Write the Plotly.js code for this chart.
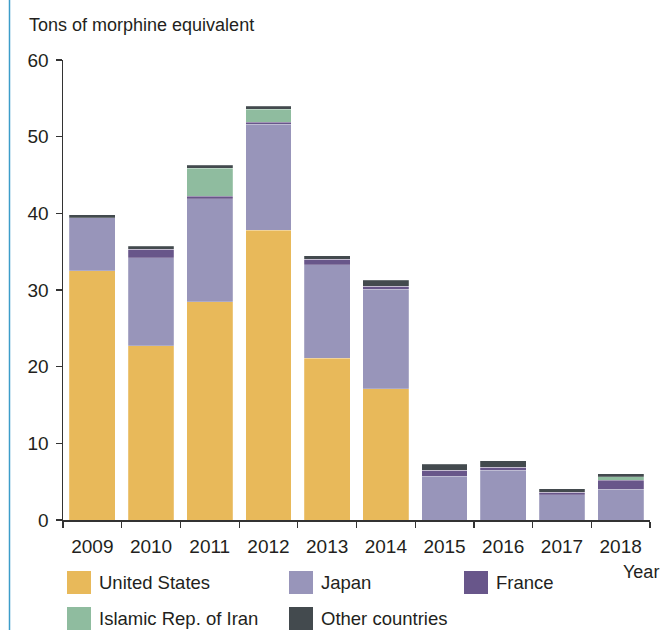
<!DOCTYPE html>
<html>
<head>
<meta charset="utf-8">
<script src="https://cdn.plot.ly/plotly-3.0.1.min.js"></script>
<style>html,body{margin:0;padding:0;background:#fff;}#chart{width:662px;height:630px;}</style>
</head>
<body>
<div id="chart"></div>
<script>
// Data (tons of morphine equivalent)
const years = ["2009","2010","2011","2012","2013","2014","2015","2016","2017","2018"];
const unitedStates = [32.5, 22.7, 28.5, 37.8, 21.1, 17.1, 0, 0, 0, 0];
const japan        = [6.9, 11.5, 13.4, 13.8, 12.2, 13.0, 5.7, 6.5, 3.3, 4.0];
const france       = [0, 1.1, 0.3, 0.3, 0.7, 0.4, 0.8, 0.4, 0.35, 1.2];
const iran         = [0, 0, 3.7, 1.7, 0, 0, 0, 0, 0, 0.45];
const others       = [0.4, 0.4, 0.4, 0.4, 0.5, 0.8, 0.8, 0.8, 0.4, 0.4];
const seriesNames  = ["United States", "Japan", "France", "Islamic Rep. of Iran", "Other countries"];
const yTicks = [0, 10, 20, 30, 40, 50, 60];

const seriesValues = [unitedStates, japan, france, iran, others];
const colors = ["#E8B95A", "#9895BA", "#68568A", "#8FBC9F", "#434A4E"];

const W = 662, H = 630;
const M = {l: 63, r: 12, t: 60, b: 110};
const pw = W - M.l - M.r, ph = H - M.t - M.b;
const px = x => (x - M.l) / pw;
const py = y => (H - M.b - y) / ph;

const FONT = "Liberation Sans, Arial, sans-serif";
const TXT = "#231F20";

const traces = seriesNames.map((name, i) => ({
  type: "bar",
  name: name,
  x: years,
  y: seriesValues[i],
  marker: {color: colors[i], line: {color: "rgba(255,255,255,0.35)", width: 0.6}},
  showlegend: false,
  hoverinfo: "x+y+name"
}));

// custom legend (swatches + labels) laid out in 3 columns
const legendCols = [67, 289, 464];
const legendRows = [582.5, 618.5];
const shapes = [];
const annotations = [];
seriesNames.forEach((name, i) => {
  const c = i % 3, r = Math.floor(i / 3);
  const x0 = legendCols[c], yc = legendRows[r];
  shapes.push({type: "rect", xref: "paper", yref: "paper",
    x0: px(x0), x1: px(x0 + 24), y0: py(yc + 11.5), y1: py(yc - 11.5),
    fillcolor: colors[i], line: {width: 0}});
  annotations.push({xref: "paper", yref: "paper", x: px(x0 + 30), y: py(yc),
    xanchor: "left", yanchor: "middle", showarrow: false, text: name,
    font: {family: FONT, size: 18.5, color: TXT}});
});
annotations.push({xref: "paper", yref: "paper", x: px(661), y: py(572),
  xanchor: "right", yanchor: "middle", showarrow: false, text: "Year",
  font: {family: FONT, size: 18, color: TXT}});
// left blue rule
shapes.push({type: "line", xref: "paper", yref: "paper",
  x0: px(9.5), x1: px(9.5), y0: py(H), y1: py(0),
  line: {color: "#3C9DC9", width: 1.5}});

const layout = {
  width: W, height: H,
  margin: M,
  paper_bgcolor: "#fff", plot_bgcolor: "#fff",
  barmode: "stack",
  bargap: 0.22,
  showlegend: false,
  title: {text: "Tons of morphine equivalent", x: 29 / W, xanchor: "left", xref: "container",
    y: 1 - 25 / H, yanchor: "middle", yref: "container",
    font: {family: FONT, size: 18, color: TXT}},
  xaxis: {
    type: "category",
    tickson: "boundaries",
    ticks: "outside", ticklen: 6, tickwidth: 1.2, tickcolor: "#333",
    showline: true, linecolor: "#333", linewidth: 1.5,
    showgrid: false, zeroline: false,
    tickfont: {family: FONT, size: 19, color: TXT},
    ticklabelstandoff: 9,
    fixedrange: true
  },
  yaxis: {
    range: [0, 60],
    tickvals: yTicks,
    ticktext: yTicks.map(String),
    ticks: "outside", ticklen: 6, tickwidth: 1.2, tickcolor: "#333",
    showline: true, linecolor: "#333", linewidth: 1.5,
    showgrid: false, zeroline: false,
    tickfont: {family: FONT, size: 19, color: TXT},
    ticklabelstandoff: 3,
    fixedrange: true
  },
  shapes: shapes,
  annotations: annotations
};

Plotly.newPlot("chart", traces, layout, {displayModeBar: false, staticPlot: true});
</script>
</body>
</html>
